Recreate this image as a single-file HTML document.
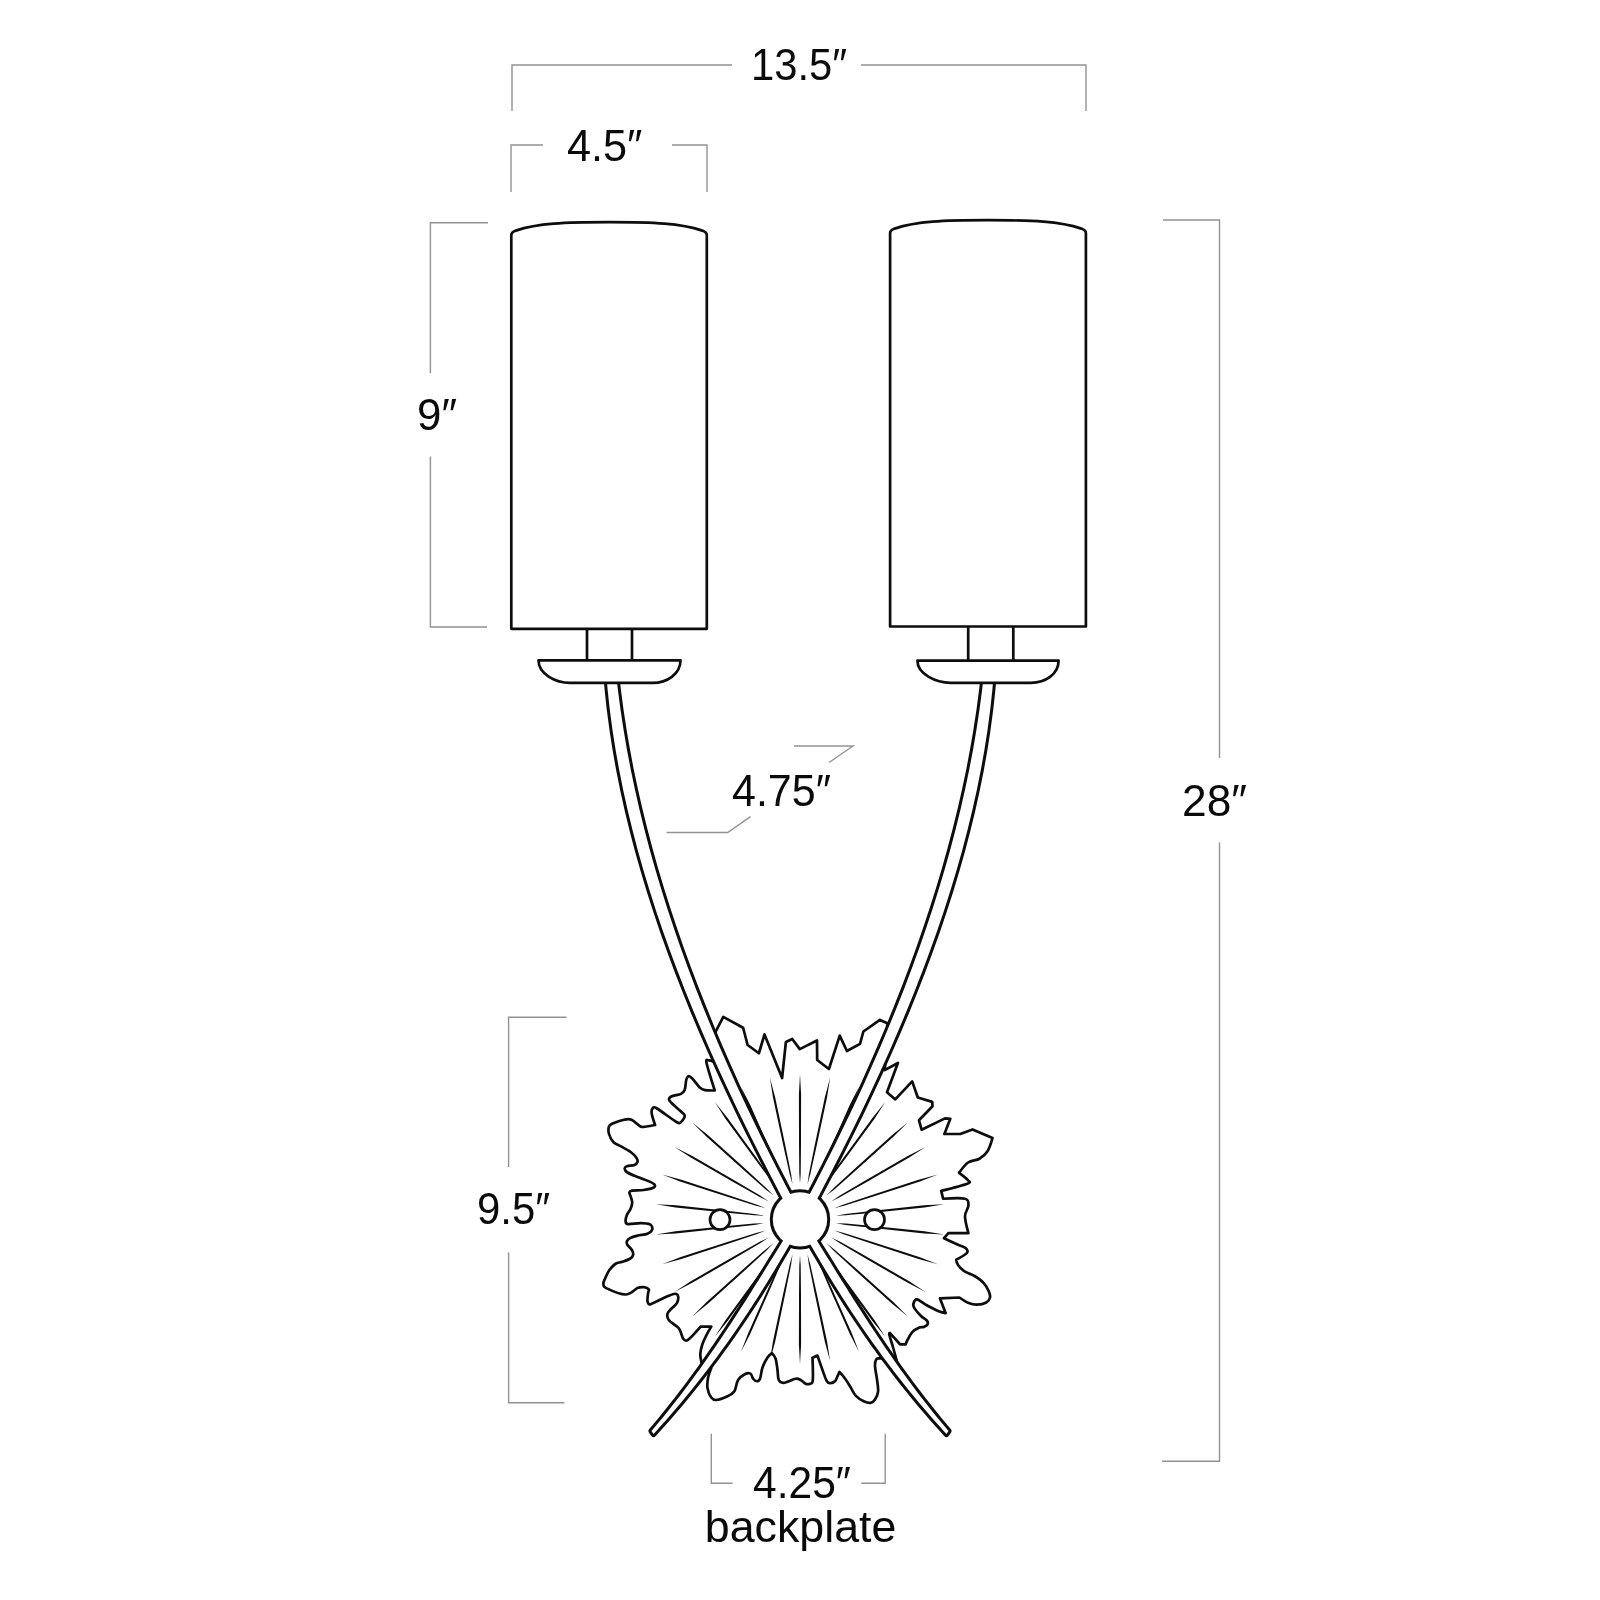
<!DOCTYPE html>
<html><head><meta charset="utf-8"><style>
html,body{margin:0;padding:0;background:#fff;width:1600px;height:1600px;overflow:hidden}
svg{display:block;filter:grayscale(1)}
text{font-family:"Liberation Sans",sans-serif;fill:#0a0a0a}
</style></head><body>
<svg width="1600" height="1600" viewBox="0 0 1600 1600">
<rect width="1600" height="1600" fill="#fff"/>
<path d="M512,111V65H732M861,65H1086V111M511,192V145H543M672,145H707V192M488,222.7H430.4V373M430.4,456.4V627H487M1163,220H1219.5V758M1219.5,842.5V1461.3H1162M566.5,1017.3H508.6V1167M508.6,1252.5V1402.8H564.4M711.3,1433.7V1483.2H732.6M861.2,1483.2H885.2V1433.7M794,746H853L829,762.5M750.5,816.7L727.7,832.5H666.6" fill="none" stroke="#929292" stroke-width="1.4"/>
<path d="M511.3,628.8V235.3Q511.3,232.3 515.8,230.6C537.8,223.34 564.05,222.2 609.05,222.2C654.05,222.2 680.3,223.34 702.3,230.6Q706.8,232.3 706.8,235.3V628.8ZM890.1,626.5V233.3Q890.1,230.3 894.6,228.6C916.6,221.34 943,220.2 988,220.2C1033,220.2 1059.4,221.34 1081.4,228.6Q1085.9,230.3 1085.9,233.3V626.5ZM587,628.8V660.5M632,628.8V660.5M968.2,626.5V660.5M1013.3,626.5V660.5" fill="none" stroke="#0d0d0d" stroke-width="2.7" stroke-linejoin="round"/>
<defs><clipPath id="bp"><path d="M715.75,1031.5L723.25,1016.9L743.1,1027.75L747.6,1045L758.9,1053.25L764.5,1034.5L782.1,1078L785.9,1042L792.25,1039L799.75,1049.1L817,1040.5L817.2,1060L828.9,1069L839.75,1035.6L846.9,1051L860,1043.9L863.4,1031.5L879.9,1019.9L887.4,1023.25L886,1047L884.75,1070.1L897.9,1063L887,1092.25L895.25,1099.4L912.2,1081.4L917.8,1097.5L932.2,1101.9L932.5,1106.25L919,1120.3L921.6,1129.7L945,1118.4L950.3,1118.75L944.4,1134L960.3,1134L972.5,1129.4L992.5,1138.1C992.5,1138.1 989.68,1147.81 987.5,1151.25C985.32,1154.69 982.63,1156.88 979.4,1158.75C976.17,1160.62 971.48,1160.16 968.1,1162.5C964.72,1164.84 959.1,1172.8 959.1,1172.8C959.1,1172.8 966.75,1178.47 968.1,1180.3C969.45,1182.12 971.68,1181.98 967.2,1183.75C962.73,1185.52 941.25,1190.9 941.25,1190.9L943.1,1198.75C943.1,1198.75 960.78,1197.61 965,1198.75C969.22,1199.89 968.4,1202.68 968.4,1205.6C968.4,1208.52 965,1211.67 965,1216.25C965,1220.83 968.4,1233.1 968.4,1233.1L948.4,1233.1L944,1238.2C944,1238.2 953.9,1242.85 957.5,1244.5C961.1,1246.15 964.03,1246.68 965.6,1248.1C967.17,1249.52 968.47,1251.05 966.9,1253C965.33,1254.95 956.2,1259.8 956.2,1259.8C956.2,1259.8 956.7,1263.13 958,1265C959.3,1266.87 962.17,1269.58 964,1271C965.83,1272.42 967.17,1272.62 969,1273.5C970.83,1274.38 972.54,1274.65 975,1276.25C977.46,1277.85 981.46,1280.6 983.75,1283.1C986.04,1285.6 987.71,1288.85 988.75,1291.25C989.79,1293.65 990.42,1295.62 990,1297.5C989.58,1299.38 988.43,1301.3 986.25,1302.5C984.07,1303.7 979.82,1304.6 976.9,1304.7C973.98,1304.8 971.67,1304.3 968.75,1303.1C965.83,1301.9 959.4,1297.5 959.4,1297.5L940,1298.4L945.6,1313.1C945.6,1313.1 941.98,1312.6 938.75,1311.25C935.52,1309.9 929.89,1306.97 926.25,1305C922.61,1303.03 919.04,1299.61 916.9,1299.4C914.76,1299.19 913.82,1302.3 913.4,1303.75C912.98,1305.2 913.09,1306.02 914.4,1308.1C915.71,1310.18 919.17,1314.17 921.25,1316.25C923.33,1318.33 925.86,1319.24 926.9,1320.6C927.94,1321.96 928.02,1323.35 927.5,1324.4C926.98,1325.45 925.1,1326.38 923.75,1326.9C922.4,1327.42 921.27,1326.67 919.4,1327.5C917.52,1328.33 914.48,1329.82 912.5,1331.9C910.52,1333.98 908.65,1337.92 907.5,1340C906.35,1342.08 905.6,1344.4 905.6,1344.4L900,1344.4C900,1344.4 897.92,1341.88 896.25,1340C894.58,1338.12 890,1333.1 890,1333.1C890,1333.1 888.88,1332.6 889.4,1335C889.92,1337.4 891.85,1343.12 893.1,1347.5C894.35,1351.88 896.9,1361.25 896.9,1361.25L888,1360L880,1358.1C880,1358.1 877.08,1358.04 876.25,1359.4C875.42,1360.76 874.89,1363.03 875,1366.25C875.11,1369.47 876.38,1374.58 876.9,1378.75C877.42,1382.92 878.42,1387.81 878.1,1391.25C877.78,1394.69 876.25,1397.48 875,1399.4C873.75,1401.33 872.48,1402.49 870.6,1402.8C868.73,1403.11 866.25,1402.45 863.75,1401.25C861.25,1400.05 857.81,1397.97 855.6,1395.6C853.39,1393.22 852.27,1389.85 850.5,1387C848.73,1384.15 846.85,1381.02 845,1378.5C843.15,1375.98 839.4,1371.9 839.4,1371.9C839.4,1371.9 838.23,1374.69 837.5,1376.25C836.77,1377.81 836.15,1380.11 835,1381.25C833.85,1382.39 831.95,1383.1 830.6,1383.1C829.25,1383.1 828.25,1383.43 826.9,1381.25C825.55,1379.07 824.07,1374.28 822.5,1370C820.93,1365.72 817.5,1355.6 817.5,1355.6L812.5,1357.8C812.5,1357.8 813.22,1375.67 812.8,1380C812.38,1384.33 811.2,1383.12 810,1383.75C808.8,1384.38 807.17,1384.38 805.6,1383.75C804.03,1383.12 802.27,1380.83 800.6,1380C798.93,1379.17 798.41,1378.28 795.6,1378.75C792.79,1379.22 786.56,1382.59 783.75,1382.8C780.94,1383.01 779.79,1382.13 778.75,1380C777.71,1377.87 778.02,1373.54 777.5,1370C776.98,1366.46 776.53,1361.57 775.6,1358.75C774.67,1355.93 771.9,1353.1 771.9,1353.1C771.9,1353.1 769.07,1355.1 767.5,1357.5C765.93,1359.9 763.75,1363.96 762.5,1367.5C761.25,1371.04 760.93,1376.46 760,1378.75C759.07,1381.04 758.05,1381.25 756.9,1381.25C755.75,1381.25 754.15,1380 753.1,1378.75C752.05,1377.5 751.85,1374.58 750.6,1373.75C749.35,1372.92 747.68,1372.71 745.6,1373.75C743.52,1374.79 739.97,1377.08 738.1,1380C736.23,1382.92 736.17,1388.54 734.4,1391.25C732.63,1393.96 730.52,1394.79 727.5,1396.25C724.48,1397.71 718.96,1399.79 716.25,1400C713.54,1400.21 712.71,1399.48 711.25,1397.5C709.79,1395.52 708.02,1391.43 707.5,1388.1C706.98,1384.77 707.48,1380.83 708.1,1377.5C708.73,1374.17 711.25,1368.1 711.25,1368.1L706,1365L701.5,1362.5C701.5,1362.5 700.17,1357 700.3,1354C700.43,1351 701.27,1347.67 702.3,1344.5C703.33,1341.33 705.01,1337.98 706.5,1335C707.99,1332.02 711.25,1326.6 711.25,1326.6L700.6,1326.6C700.6,1326.6 690.93,1337.85 688,1339.8C685.07,1341.75 684.5,1340.18 683,1338.3C681.5,1336.42 681.38,1331.55 679,1328.5C676.62,1325.45 670.67,1322.46 668.75,1320C666.83,1317.54 667.08,1315.62 667.5,1313.75C667.92,1311.88 669.68,1310.53 671.25,1308.75C672.82,1306.97 675.76,1305.18 676.9,1303.1C678.04,1301.02 678.42,1297.81 678.1,1296.25C677.78,1294.69 676.77,1293.75 675,1293.75C673.23,1293.75 670.1,1295.21 667.5,1296.25C664.9,1297.29 662.32,1298.64 659.4,1300C656.48,1301.36 651.98,1304.19 650,1304.4C648.02,1304.61 647.82,1303.13 647.5,1301.25C647.18,1299.37 647.89,1295.07 648.1,1293.1C648.31,1291.12 649.48,1290.38 648.75,1289.4C648.02,1288.42 645.62,1287.42 643.75,1287.2C641.88,1286.98 640.54,1286.88 637.5,1288.1C634.46,1289.32 630.71,1294.5 625.5,1294.5C620.29,1294.5 609.93,1289.89 606.25,1288.1C602.57,1286.31 603.61,1285.31 603.4,1283.75C603.19,1282.19 604,1281.04 605,1278.75C606,1276.46 607.63,1272.5 609.4,1270C611.17,1267.5 613.52,1265.1 615.6,1263.75C617.68,1262.4 619.5,1262.73 621.9,1261.9C624.3,1261.07 628.13,1259.9 630,1258.75C631.87,1257.6 632.78,1256.46 633.1,1255C633.42,1253.54 632.83,1251.67 631.9,1250C630.97,1248.33 628.33,1246.46 627.5,1245C626.67,1243.54 626.48,1242.4 626.9,1241.25C627.32,1240.1 628.23,1239.04 630,1238.1C631.77,1237.16 634.58,1236.32 637.5,1235.6C640.42,1234.88 645.05,1234.77 647.5,1233.75C649.95,1232.73 651.78,1231.06 652.2,1229.5C652.62,1227.94 651.93,1225.47 650,1224.4C648.07,1223.33 644.25,1223.15 640.6,1223.1C636.95,1223.05 630.6,1224.41 628.1,1224.1C625.6,1223.79 625.8,1222.77 625.6,1221.25C625.4,1219.73 626.07,1217.08 626.9,1215C627.73,1212.92 629.72,1210.83 630.6,1208.75C631.48,1206.67 632.2,1204.58 632.2,1202.5C632.2,1200.42 631.07,1197.92 630.6,1196.25C630.13,1194.58 629.18,1193.44 629.4,1192.5C629.62,1191.56 629.51,1191.02 631.9,1190.6C634.29,1190.18 640.11,1190.52 643.75,1190C647.39,1189.48 651.98,1188.43 653.75,1187.5C655.52,1186.57 655.23,1185.44 654.4,1184.4C653.57,1183.36 651.57,1182.5 648.75,1181.25C645.93,1180 641.04,1178.36 637.5,1176.9C633.96,1175.44 629.63,1173.86 627.5,1172.5C625.37,1171.14 624.8,1169.79 624.7,1168.75C624.6,1167.71 625.28,1166.88 626.9,1166.25C628.52,1165.62 632.63,1165.72 634.4,1165C636.17,1164.28 637.19,1163.15 637.5,1161.9C637.81,1160.65 637.29,1159.07 636.25,1157.5C635.21,1155.93 633.64,1154.27 631.25,1152.5C628.86,1150.73 624.86,1148.61 621.9,1146.9C618.94,1145.19 615.65,1144.4 613.5,1142.25C611.35,1140.1 609.75,1136.62 609,1134C608.25,1131.38 608.38,1128.25 609,1126.5C609.62,1124.75 610.25,1124.62 612.75,1123.5C615.25,1122.38 620.88,1120.38 624,1119.75C627.12,1119.12 628.75,1118.62 631.5,1119.75C634.25,1120.88 638,1125.38 640.5,1126.5C643,1127.62 644.07,1126.75 646.5,1126.5C648.93,1126.25 655.1,1125 655.1,1125C655.1,1125 652.18,1116.5 651.75,1113.75C651.32,1111 651.62,1109.38 652.5,1108.5C653.38,1107.62 653,1106.25 657,1108.5C661,1110.75 672.5,1119.75 676.5,1122C680.5,1124.25 679.62,1123 681,1122C682.38,1121 684.75,1117.75 684.75,1116C684.75,1114.25 683.5,1114 681,1111.5C678.5,1109 671.38,1103.5 669.75,1101C668.12,1098.5 669.38,1097.68 671.25,1096.5C673.12,1095.32 678.75,1095.03 681,1093.9C683.25,1092.78 683.88,1092.07 684.75,1089.75C685.62,1087.43 685.62,1082.25 686.25,1080C686.88,1077.75 687.5,1076.5 688.5,1076.25C689.5,1076 690.38,1076.62 692.25,1078.5C694.12,1080.38 697.62,1085.57 699.75,1087.5C701.88,1089.43 702.5,1089.6 705,1090.1C707.5,1090.6 714.75,1090.5 714.75,1090.5C714.75,1090.5 707.5,1067.75 706.5,1062.75C705.5,1057.75 707.75,1060.75 708.75,1060.5C709.75,1060.25 712.5,1061.25 712.5,1061.25L715.75,1031.5Z"/></clipPath></defs>
<path d="M715.75,1031.5L723.25,1016.9L743.1,1027.75L747.6,1045L758.9,1053.25L764.5,1034.5L782.1,1078L785.9,1042L792.25,1039L799.75,1049.1L817,1040.5L817.2,1060L828.9,1069L839.75,1035.6L846.9,1051L860,1043.9L863.4,1031.5L879.9,1019.9L887.4,1023.25L886,1047L884.75,1070.1L897.9,1063L887,1092.25L895.25,1099.4L912.2,1081.4L917.8,1097.5L932.2,1101.9L932.5,1106.25L919,1120.3L921.6,1129.7L945,1118.4L950.3,1118.75L944.4,1134L960.3,1134L972.5,1129.4L992.5,1138.1C992.5,1138.1 989.68,1147.81 987.5,1151.25C985.32,1154.69 982.63,1156.88 979.4,1158.75C976.17,1160.62 971.48,1160.16 968.1,1162.5C964.72,1164.84 959.1,1172.8 959.1,1172.8C959.1,1172.8 966.75,1178.47 968.1,1180.3C969.45,1182.12 971.68,1181.98 967.2,1183.75C962.73,1185.52 941.25,1190.9 941.25,1190.9L943.1,1198.75C943.1,1198.75 960.78,1197.61 965,1198.75C969.22,1199.89 968.4,1202.68 968.4,1205.6C968.4,1208.52 965,1211.67 965,1216.25C965,1220.83 968.4,1233.1 968.4,1233.1L948.4,1233.1L944,1238.2C944,1238.2 953.9,1242.85 957.5,1244.5C961.1,1246.15 964.03,1246.68 965.6,1248.1C967.17,1249.52 968.47,1251.05 966.9,1253C965.33,1254.95 956.2,1259.8 956.2,1259.8C956.2,1259.8 956.7,1263.13 958,1265C959.3,1266.87 962.17,1269.58 964,1271C965.83,1272.42 967.17,1272.62 969,1273.5C970.83,1274.38 972.54,1274.65 975,1276.25C977.46,1277.85 981.46,1280.6 983.75,1283.1C986.04,1285.6 987.71,1288.85 988.75,1291.25C989.79,1293.65 990.42,1295.62 990,1297.5C989.58,1299.38 988.43,1301.3 986.25,1302.5C984.07,1303.7 979.82,1304.6 976.9,1304.7C973.98,1304.8 971.67,1304.3 968.75,1303.1C965.83,1301.9 959.4,1297.5 959.4,1297.5L940,1298.4L945.6,1313.1C945.6,1313.1 941.98,1312.6 938.75,1311.25C935.52,1309.9 929.89,1306.97 926.25,1305C922.61,1303.03 919.04,1299.61 916.9,1299.4C914.76,1299.19 913.82,1302.3 913.4,1303.75C912.98,1305.2 913.09,1306.02 914.4,1308.1C915.71,1310.18 919.17,1314.17 921.25,1316.25C923.33,1318.33 925.86,1319.24 926.9,1320.6C927.94,1321.96 928.02,1323.35 927.5,1324.4C926.98,1325.45 925.1,1326.38 923.75,1326.9C922.4,1327.42 921.27,1326.67 919.4,1327.5C917.52,1328.33 914.48,1329.82 912.5,1331.9C910.52,1333.98 908.65,1337.92 907.5,1340C906.35,1342.08 905.6,1344.4 905.6,1344.4L900,1344.4C900,1344.4 897.92,1341.88 896.25,1340C894.58,1338.12 890,1333.1 890,1333.1C890,1333.1 888.88,1332.6 889.4,1335C889.92,1337.4 891.85,1343.12 893.1,1347.5C894.35,1351.88 896.9,1361.25 896.9,1361.25L888,1360L880,1358.1C880,1358.1 877.08,1358.04 876.25,1359.4C875.42,1360.76 874.89,1363.03 875,1366.25C875.11,1369.47 876.38,1374.58 876.9,1378.75C877.42,1382.92 878.42,1387.81 878.1,1391.25C877.78,1394.69 876.25,1397.48 875,1399.4C873.75,1401.33 872.48,1402.49 870.6,1402.8C868.73,1403.11 866.25,1402.45 863.75,1401.25C861.25,1400.05 857.81,1397.97 855.6,1395.6C853.39,1393.22 852.27,1389.85 850.5,1387C848.73,1384.15 846.85,1381.02 845,1378.5C843.15,1375.98 839.4,1371.9 839.4,1371.9C839.4,1371.9 838.23,1374.69 837.5,1376.25C836.77,1377.81 836.15,1380.11 835,1381.25C833.85,1382.39 831.95,1383.1 830.6,1383.1C829.25,1383.1 828.25,1383.43 826.9,1381.25C825.55,1379.07 824.07,1374.28 822.5,1370C820.93,1365.72 817.5,1355.6 817.5,1355.6L812.5,1357.8C812.5,1357.8 813.22,1375.67 812.8,1380C812.38,1384.33 811.2,1383.12 810,1383.75C808.8,1384.38 807.17,1384.38 805.6,1383.75C804.03,1383.12 802.27,1380.83 800.6,1380C798.93,1379.17 798.41,1378.28 795.6,1378.75C792.79,1379.22 786.56,1382.59 783.75,1382.8C780.94,1383.01 779.79,1382.13 778.75,1380C777.71,1377.87 778.02,1373.54 777.5,1370C776.98,1366.46 776.53,1361.57 775.6,1358.75C774.67,1355.93 771.9,1353.1 771.9,1353.1C771.9,1353.1 769.07,1355.1 767.5,1357.5C765.93,1359.9 763.75,1363.96 762.5,1367.5C761.25,1371.04 760.93,1376.46 760,1378.75C759.07,1381.04 758.05,1381.25 756.9,1381.25C755.75,1381.25 754.15,1380 753.1,1378.75C752.05,1377.5 751.85,1374.58 750.6,1373.75C749.35,1372.92 747.68,1372.71 745.6,1373.75C743.52,1374.79 739.97,1377.08 738.1,1380C736.23,1382.92 736.17,1388.54 734.4,1391.25C732.63,1393.96 730.52,1394.79 727.5,1396.25C724.48,1397.71 718.96,1399.79 716.25,1400C713.54,1400.21 712.71,1399.48 711.25,1397.5C709.79,1395.52 708.02,1391.43 707.5,1388.1C706.98,1384.77 707.48,1380.83 708.1,1377.5C708.73,1374.17 711.25,1368.1 711.25,1368.1L706,1365L701.5,1362.5C701.5,1362.5 700.17,1357 700.3,1354C700.43,1351 701.27,1347.67 702.3,1344.5C703.33,1341.33 705.01,1337.98 706.5,1335C707.99,1332.02 711.25,1326.6 711.25,1326.6L700.6,1326.6C700.6,1326.6 690.93,1337.85 688,1339.8C685.07,1341.75 684.5,1340.18 683,1338.3C681.5,1336.42 681.38,1331.55 679,1328.5C676.62,1325.45 670.67,1322.46 668.75,1320C666.83,1317.54 667.08,1315.62 667.5,1313.75C667.92,1311.88 669.68,1310.53 671.25,1308.75C672.82,1306.97 675.76,1305.18 676.9,1303.1C678.04,1301.02 678.42,1297.81 678.1,1296.25C677.78,1294.69 676.77,1293.75 675,1293.75C673.23,1293.75 670.1,1295.21 667.5,1296.25C664.9,1297.29 662.32,1298.64 659.4,1300C656.48,1301.36 651.98,1304.19 650,1304.4C648.02,1304.61 647.82,1303.13 647.5,1301.25C647.18,1299.37 647.89,1295.07 648.1,1293.1C648.31,1291.12 649.48,1290.38 648.75,1289.4C648.02,1288.42 645.62,1287.42 643.75,1287.2C641.88,1286.98 640.54,1286.88 637.5,1288.1C634.46,1289.32 630.71,1294.5 625.5,1294.5C620.29,1294.5 609.93,1289.89 606.25,1288.1C602.57,1286.31 603.61,1285.31 603.4,1283.75C603.19,1282.19 604,1281.04 605,1278.75C606,1276.46 607.63,1272.5 609.4,1270C611.17,1267.5 613.52,1265.1 615.6,1263.75C617.68,1262.4 619.5,1262.73 621.9,1261.9C624.3,1261.07 628.13,1259.9 630,1258.75C631.87,1257.6 632.78,1256.46 633.1,1255C633.42,1253.54 632.83,1251.67 631.9,1250C630.97,1248.33 628.33,1246.46 627.5,1245C626.67,1243.54 626.48,1242.4 626.9,1241.25C627.32,1240.1 628.23,1239.04 630,1238.1C631.77,1237.16 634.58,1236.32 637.5,1235.6C640.42,1234.88 645.05,1234.77 647.5,1233.75C649.95,1232.73 651.78,1231.06 652.2,1229.5C652.62,1227.94 651.93,1225.47 650,1224.4C648.07,1223.33 644.25,1223.15 640.6,1223.1C636.95,1223.05 630.6,1224.41 628.1,1224.1C625.6,1223.79 625.8,1222.77 625.6,1221.25C625.4,1219.73 626.07,1217.08 626.9,1215C627.73,1212.92 629.72,1210.83 630.6,1208.75C631.48,1206.67 632.2,1204.58 632.2,1202.5C632.2,1200.42 631.07,1197.92 630.6,1196.25C630.13,1194.58 629.18,1193.44 629.4,1192.5C629.62,1191.56 629.51,1191.02 631.9,1190.6C634.29,1190.18 640.11,1190.52 643.75,1190C647.39,1189.48 651.98,1188.43 653.75,1187.5C655.52,1186.57 655.23,1185.44 654.4,1184.4C653.57,1183.36 651.57,1182.5 648.75,1181.25C645.93,1180 641.04,1178.36 637.5,1176.9C633.96,1175.44 629.63,1173.86 627.5,1172.5C625.37,1171.14 624.8,1169.79 624.7,1168.75C624.6,1167.71 625.28,1166.88 626.9,1166.25C628.52,1165.62 632.63,1165.72 634.4,1165C636.17,1164.28 637.19,1163.15 637.5,1161.9C637.81,1160.65 637.29,1159.07 636.25,1157.5C635.21,1155.93 633.64,1154.27 631.25,1152.5C628.86,1150.73 624.86,1148.61 621.9,1146.9C618.94,1145.19 615.65,1144.4 613.5,1142.25C611.35,1140.1 609.75,1136.62 609,1134C608.25,1131.38 608.38,1128.25 609,1126.5C609.62,1124.75 610.25,1124.62 612.75,1123.5C615.25,1122.38 620.88,1120.38 624,1119.75C627.12,1119.12 628.75,1118.62 631.5,1119.75C634.25,1120.88 638,1125.38 640.5,1126.5C643,1127.62 644.07,1126.75 646.5,1126.5C648.93,1126.25 655.1,1125 655.1,1125C655.1,1125 652.18,1116.5 651.75,1113.75C651.32,1111 651.62,1109.38 652.5,1108.5C653.38,1107.62 653,1106.25 657,1108.5C661,1110.75 672.5,1119.75 676.5,1122C680.5,1124.25 679.62,1123 681,1122C682.38,1121 684.75,1117.75 684.75,1116C684.75,1114.25 683.5,1114 681,1111.5C678.5,1109 671.38,1103.5 669.75,1101C668.12,1098.5 669.38,1097.68 671.25,1096.5C673.12,1095.32 678.75,1095.03 681,1093.9C683.25,1092.78 683.88,1092.07 684.75,1089.75C685.62,1087.43 685.62,1082.25 686.25,1080C686.88,1077.75 687.5,1076.5 688.5,1076.25C689.5,1076 690.38,1076.62 692.25,1078.5C694.12,1080.38 697.62,1085.57 699.75,1087.5C701.88,1089.43 702.5,1089.6 705,1090.1C707.5,1090.6 714.75,1090.5 714.75,1090.5C714.75,1090.5 707.5,1067.75 706.5,1062.75C705.5,1057.75 707.75,1060.75 708.75,1060.5C709.75,1060.25 712.5,1061.25 712.5,1061.25L715.75,1031.5Z" fill="#fff" stroke="#0d0d0d" stroke-width="2.7" stroke-linejoin="round"/>
<path d="M944.21,1204.24L924.43,1207.43L875.69,1212.45L845.82,1215.29L835.8,1215.64L845.67,1213.9L875.48,1210.46L924.2,1205.24ZM937.9,1174.59L919.22,1181.82L872.59,1196.87L843.96,1205.85L834.24,1208.28L843.53,1204.52L871.97,1194.96L918.54,1179.73ZM925.57,1146.9L908.8,1157.85L866.32,1182.27L840.19,1197.01L831.18,1201.4L839.49,1195.79L865.32,1180.53L907.7,1155.95ZM907.76,1122.38L893.63,1136.58L857.15,1169.29L834.65,1189.14L826.75,1195.31L833.72,1188.1L855.81,1167.8L892.16,1134.94ZM885.23,1102.09L874.36,1118.92L845.48,1158.5L827.6,1182.6L821.16,1190.28L826.47,1181.77L843.86,1157.33L872.58,1117.63ZM858.98,1086.94L851.85,1105.65L831.83,1150.38L819.35,1177.66L814.64,1186.51L818.07,1177.09L830,1149.56L849.84,1104.76ZM830.15,1077.57L827.06,1097.36L816.78,1145.27L810.25,1174.55L807.48,1184.19L808.88,1174.26L814.82,1144.85L824.91,1096.9ZM800,1074.4L801.1,1094.4L801,1143.4L800.7,1173.4L800,1183.4L799.3,1173.4L799,1143.4L798.9,1094.4ZM769.85,1077.57L775.09,1096.9L785.18,1144.85L791.12,1174.26L792.52,1184.19L789.75,1174.55L783.22,1145.27L772.94,1097.36ZM741.02,1086.94L750.16,1104.76L770,1149.56L781.93,1177.09L785.36,1186.51L780.65,1177.66L768.17,1150.38L748.15,1105.65ZM714.77,1102.09L727.42,1117.63L756.14,1157.33L773.53,1181.77L778.84,1190.28L772.4,1182.6L754.52,1158.5L725.64,1118.92ZM692.24,1122.38L707.84,1134.94L744.19,1167.8L766.28,1188.1L773.25,1195.31L765.35,1189.14L742.85,1169.29L706.37,1136.58ZM674.43,1146.9L692.3,1155.95L734.68,1180.53L760.51,1195.79L768.82,1201.4L759.81,1197.01L733.68,1182.27L691.2,1157.85ZM662.1,1174.59L681.46,1179.73L728.03,1194.96L756.47,1204.52L765.76,1208.28L756.04,1205.85L727.41,1196.87L680.78,1181.82ZM655.79,1204.24L675.8,1205.24L724.52,1210.46L754.33,1213.9L764.2,1215.64L754.18,1215.29L724.31,1212.45L675.57,1207.43ZM655.79,1234.56L675.57,1231.37L724.31,1226.35L754.18,1223.51L764.2,1223.16L754.33,1224.9L724.52,1228.34L675.8,1233.56ZM662.1,1264.21L680.78,1256.98L727.41,1241.93L756.04,1232.95L765.76,1230.52L756.47,1234.28L728.03,1243.84L681.46,1259.07ZM674.43,1291.9L691.2,1280.95L733.68,1256.53L759.81,1241.79L768.82,1237.4L760.51,1243.01L734.68,1258.27L692.3,1282.85ZM692.24,1316.42L706.37,1302.22L742.85,1269.51L765.35,1249.66L773.25,1243.49L766.28,1250.7L744.19,1271L707.84,1303.86ZM714.77,1336.71L725.64,1319.88L754.52,1280.3L772.4,1256.2L778.84,1248.52L773.53,1257.03L756.14,1281.47L727.42,1321.17ZM741.02,1351.86L748.15,1333.15L768.17,1288.42L780.65,1261.14L785.36,1252.29L781.93,1261.71L770,1289.24L750.16,1334.04ZM769.85,1361.23L772.94,1341.44L783.22,1293.53L789.75,1264.25L792.52,1254.61L791.12,1264.54L785.18,1293.95L775.09,1341.9ZM800,1364.4L798.9,1344.4L799,1295.4L799.3,1265.4L800,1255.4L800.7,1265.4L801,1295.4L801.1,1344.4ZM830.15,1361.23L824.91,1341.9L814.82,1293.95L808.88,1264.54L807.48,1254.61L810.25,1264.25L816.78,1293.53L827.06,1341.44ZM858.98,1351.86L849.84,1334.04L830,1289.24L818.07,1261.71L814.64,1252.29L819.35,1261.14L831.83,1288.42L851.85,1333.15ZM885.23,1336.71L872.58,1321.17L843.86,1281.47L826.47,1257.03L821.16,1248.52L827.6,1256.2L845.48,1280.3L874.36,1319.88ZM907.76,1316.42L892.16,1303.86L855.81,1271L833.72,1250.7L826.75,1243.49L834.65,1249.66L857.15,1269.51L893.63,1302.22ZM925.57,1291.9L907.7,1282.85L865.32,1258.27L839.49,1243.01L831.18,1237.4L840.19,1241.79L866.32,1256.53L908.8,1280.95ZM937.9,1264.21L918.54,1259.07L871.97,1243.84L843.53,1234.28L834.24,1230.52L843.96,1232.95L872.59,1241.93L919.22,1256.98ZM944.21,1234.56L924.2,1233.56L875.48,1228.34L845.67,1224.9L835.8,1223.16L845.82,1223.51L875.69,1226.35L924.43,1231.37Z" fill="#0d0d0d" clip-path="url(#bp)"/>
<circle cx="720" cy="1219.7" r="10" fill="#fff" stroke="#0d0d0d" stroke-width="2.7"/>
<circle cx="874.5" cy="1219.6" r="10" fill="#fff" stroke="#0d0d0d" stroke-width="2.7"/>
<g stroke="#0d0d0d" stroke-width="6.0" stroke-linejoin="round" fill="#0d0d0d"><path d="M605.92,670L607.64,690.07L609.84,710.15L612.52,730.22L615.66,750.3L619.25,770.37L623.29,790.44L627.75,810.52L632.63,830.59L637.91,850.67L643.6,870.74L649.66,890.81L656.1,910.89L662.9,930.96L670.06,951.04L677.55,971.11L685.37,991.19L693.5,1011.26L701.94,1031.33L710.68,1051.41L719.7,1071.48L728.99,1091.56L738.54,1111.63L748.35,1131.7L758.39,1151.78L768.65,1171.85L779.14,1191.93L789.83,1212L796.51,1206L786.06,1186.15L775.84,1166.3L765.86,1146.44L756.13,1126.59L746.64,1106.74L737.42,1086.89L728.47,1067.04L719.79,1047.19L711.38,1027.33L703.27,1007.48L695.45,987.63L687.92,967.78L680.71,947.93L673.81,928.07L667.22,908.22L660.97,888.37L655.05,868.52L649.47,848.67L644.23,828.81L639.36,808.96L634.84,789.11L630.69,769.26L626.91,749.41L623.52,729.56L620.51,709.7L617.9,689.85L615.69,670ZM801.15,1228L805.44,1235.63L809.78,1243.26L814.18,1250.89L818.63,1258.52L823.14,1266.15L827.72,1273.78L832.37,1281.41L837.1,1289.04L841.9,1296.67L846.79,1304.3L851.76,1311.93L856.83,1319.56L861.99,1327.19L867.24,1334.81L872.61,1342.44L878.07,1350.07L883.65,1357.7L889.34,1365.33L895.16,1372.96L901.09,1380.59L907.16,1388.22L913.35,1395.85L919.68,1403.48L926.15,1411.11L932.76,1418.74L939.52,1426.37L946.43,1434L948.53,1431L942.07,1423.33L935.76,1415.67L929.59,1408L923.55,1400.33L917.65,1392.67L911.87,1385L906.2,1377.33L900.65,1369.67L895.19,1362L889.83,1354.33L884.56,1346.67L879.37,1339L874.25,1331.33L869.2,1323.67L864.21,1316L859.27,1308.33L854.38,1300.67L849.53,1293L844.7,1285.33L839.9,1277.67L835.12,1270L830.35,1262.33L825.58,1254.67L820.81,1247L816.02,1239.33L811.22,1231.67L806.4,1224ZM994.08,670L992.36,690.07L990.16,710.15L987.48,730.22L984.34,750.3L980.75,770.37L976.71,790.44L972.25,810.52L967.37,830.59L962.09,850.67L956.4,870.74L950.34,890.81L943.9,910.89L937.1,930.96L929.94,951.04L922.45,971.11L914.63,991.19L906.5,1011.26L898.06,1031.33L889.32,1051.41L880.3,1071.48L871.01,1091.56L861.46,1111.63L851.65,1131.7L841.61,1151.78L831.35,1171.85L820.86,1191.93L810.17,1212L803.49,1206L813.94,1186.15L824.16,1166.3L834.14,1146.44L843.87,1126.59L853.36,1106.74L862.58,1086.89L871.53,1067.04L880.21,1047.19L888.62,1027.33L896.73,1007.48L904.55,987.63L912.08,967.78L919.29,947.93L926.19,928.07L932.78,908.22L939.03,888.37L944.95,868.52L950.53,848.67L955.77,828.81L960.64,808.96L965.16,789.11L969.31,769.26L973.09,749.41L976.48,729.56L979.49,709.7L982.1,689.85L984.31,670ZM798.85,1228L794.56,1235.63L790.22,1243.26L785.82,1250.89L781.37,1258.52L776.86,1266.15L772.28,1273.78L767.63,1281.41L762.9,1289.04L758.1,1296.67L753.21,1304.3L748.24,1311.93L743.17,1319.56L738.01,1327.19L732.76,1334.81L727.39,1342.44L721.93,1350.07L716.35,1357.7L710.66,1365.33L704.84,1372.96L698.91,1380.59L692.84,1388.22L686.65,1395.85L680.32,1403.48L673.85,1411.11L667.24,1418.74L660.48,1426.37L653.57,1434L651.47,1431L657.93,1423.33L664.24,1415.67L670.41,1408L676.45,1400.33L682.35,1392.67L688.13,1385L693.8,1377.33L699.35,1369.67L704.81,1362L710.17,1354.33L715.44,1346.67L720.63,1339L725.75,1331.33L730.8,1323.67L735.79,1316L740.73,1308.33L745.62,1300.67L750.47,1293L755.3,1285.33L760.1,1277.67L764.88,1270L769.65,1262.33L774.42,1254.67L779.19,1247L783.98,1239.33L788.78,1231.67L793.6,1224Z"/><circle cx="800" cy="1219.4" r="27.2"/></g>
<g fill="#fff"><path d="M605.92,670L607.64,690.07L609.84,710.15L612.52,730.22L615.66,750.3L619.25,770.37L623.29,790.44L627.75,810.52L632.63,830.59L637.91,850.67L643.6,870.74L649.66,890.81L656.1,910.89L662.9,930.96L670.06,951.04L677.55,971.11L685.37,991.19L693.5,1011.26L701.94,1031.33L710.68,1051.41L719.7,1071.48L728.99,1091.56L738.54,1111.63L748.35,1131.7L758.39,1151.78L768.65,1171.85L779.14,1191.93L789.83,1212L796.51,1206L786.06,1186.15L775.84,1166.3L765.86,1146.44L756.13,1126.59L746.64,1106.74L737.42,1086.89L728.47,1067.04L719.79,1047.19L711.38,1027.33L703.27,1007.48L695.45,987.63L687.92,967.78L680.71,947.93L673.81,928.07L667.22,908.22L660.97,888.37L655.05,868.52L649.47,848.67L644.23,828.81L639.36,808.96L634.84,789.11L630.69,769.26L626.91,749.41L623.52,729.56L620.51,709.7L617.9,689.85L615.69,670ZM801.15,1228L805.44,1235.63L809.78,1243.26L814.18,1250.89L818.63,1258.52L823.14,1266.15L827.72,1273.78L832.37,1281.41L837.1,1289.04L841.9,1296.67L846.79,1304.3L851.76,1311.93L856.83,1319.56L861.99,1327.19L867.24,1334.81L872.61,1342.44L878.07,1350.07L883.65,1357.7L889.34,1365.33L895.16,1372.96L901.09,1380.59L907.16,1388.22L913.35,1395.85L919.68,1403.48L926.15,1411.11L932.76,1418.74L939.52,1426.37L946.43,1434L948.53,1431L942.07,1423.33L935.76,1415.67L929.59,1408L923.55,1400.33L917.65,1392.67L911.87,1385L906.2,1377.33L900.65,1369.67L895.19,1362L889.83,1354.33L884.56,1346.67L879.37,1339L874.25,1331.33L869.2,1323.67L864.21,1316L859.27,1308.33L854.38,1300.67L849.53,1293L844.7,1285.33L839.9,1277.67L835.12,1270L830.35,1262.33L825.58,1254.67L820.81,1247L816.02,1239.33L811.22,1231.67L806.4,1224ZM994.08,670L992.36,690.07L990.16,710.15L987.48,730.22L984.34,750.3L980.75,770.37L976.71,790.44L972.25,810.52L967.37,830.59L962.09,850.67L956.4,870.74L950.34,890.81L943.9,910.89L937.1,930.96L929.94,951.04L922.45,971.11L914.63,991.19L906.5,1011.26L898.06,1031.33L889.32,1051.41L880.3,1071.48L871.01,1091.56L861.46,1111.63L851.65,1131.7L841.61,1151.78L831.35,1171.85L820.86,1191.93L810.17,1212L803.49,1206L813.94,1186.15L824.16,1166.3L834.14,1146.44L843.87,1126.59L853.36,1106.74L862.58,1086.89L871.53,1067.04L880.21,1047.19L888.62,1027.33L896.73,1007.48L904.55,987.63L912.08,967.78L919.29,947.93L926.19,928.07L932.78,908.22L939.03,888.37L944.95,868.52L950.53,848.67L955.77,828.81L960.64,808.96L965.16,789.11L969.31,769.26L973.09,749.41L976.48,729.56L979.49,709.7L982.1,689.85L984.31,670ZM798.85,1228L794.56,1235.63L790.22,1243.26L785.82,1250.89L781.37,1258.52L776.86,1266.15L772.28,1273.78L767.63,1281.41L762.9,1289.04L758.1,1296.67L753.21,1304.3L748.24,1311.93L743.17,1319.56L738.01,1327.19L732.76,1334.81L727.39,1342.44L721.93,1350.07L716.35,1357.7L710.66,1365.33L704.84,1372.96L698.91,1380.59L692.84,1388.22L686.65,1395.85L680.32,1403.48L673.85,1411.11L667.24,1418.74L660.48,1426.37L653.57,1434L651.47,1431L657.93,1423.33L664.24,1415.67L670.41,1408L676.45,1400.33L682.35,1392.67L688.13,1385L693.8,1377.33L699.35,1369.67L704.81,1362L710.17,1354.33L715.44,1346.67L720.63,1339L725.75,1331.33L730.8,1323.67L735.79,1316L740.73,1308.33L745.62,1300.67L750.47,1293L755.3,1285.33L760.1,1277.67L764.88,1270L769.65,1262.33L774.42,1254.67L779.19,1247L783.98,1239.33L788.78,1231.67L793.6,1224Z"/><circle cx="800" cy="1219.4" r="27.2"/></g>
<path d="M538.5,660.3H680.5C680.5,674.3 666.7,682.8 652.7,682.8H570C556,682.8 538.5,674.3 538.5,660.3ZM917.4,660.6H1058.6C1058.6,674.6 1045,682.8 1031,682.8H950.5C936.5,682.8 917.4,674.6 917.4,660.6Z" fill="#fff" stroke="#0d0d0d" stroke-width="2.7" stroke-linejoin="round"/>
<text x="751" y="80" font-size="45" textLength="96.12" lengthAdjust="spacingAndGlyphs">13.5&#8243;</text>
<text x="567" y="160.6" font-size="45" textLength="75.4" lengthAdjust="spacingAndGlyphs">4.5&#8243;</text>
<text x="417" y="429.8" font-size="45" textLength="39.92" lengthAdjust="spacingAndGlyphs">9&#8243;</text>
<text x="732" y="806" font-size="45" textLength="98.89" lengthAdjust="spacingAndGlyphs">4.75&#8243;</text>
<text x="1182" y="815.5" font-size="45" textLength="64.95" lengthAdjust="spacingAndGlyphs">28&#8243;</text>
<text x="477" y="1224" font-size="45" textLength="73.06" lengthAdjust="spacingAndGlyphs">9.5&#8243;</text>
<text x="753" y="1498.4" font-size="45" textLength="97.87" lengthAdjust="spacingAndGlyphs">4.25&#8243;</text>
<text x="704.8" y="1541.7" font-size="45" textLength="191.58" lengthAdjust="spacingAndGlyphs">backplate</text>
</svg>
</body></html>
